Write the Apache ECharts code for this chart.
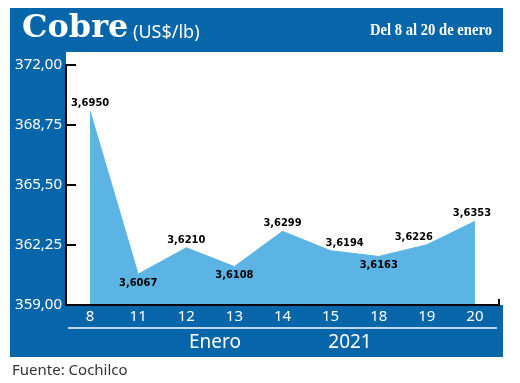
<!DOCTYPE html>
<html>
<head>
<meta charset="utf-8">
<script src="https://cdn.jsdelivr.net/npm/echarts@6/dist/echarts.min.js"></script>
<style>html,body{margin:0;padding:0;background:#fff;}#c{width:520px;height:383px;}</style>
</head>
<body>
<div id="c"></div>
<script>
// ---- data ----
var categories = ['8', '11', '12', '13', '14', '15', '18', '19', '20'];
var prices = [3.6950, 3.6067, 3.6210, 3.6108, 3.6299, 3.6194, 3.6163, 3.6226, 3.6353]; // US$/lb
var yTicks = [359.00, 362.25, 365.50, 368.75, 372.00];
var titleMain = 'Cobre';
var titleUnit = '(US$/lb)';
var titleRange = 'Del 8 al 20 de enero';
var monthLabel = 'Enero';
var yearLabel = '2021';
var sourceLabel = 'Fuente: Cochilco';

// ---- chart ----
var BLUE = '#0666a9';
var AREA = '#5bb4e4';
var labelPos = ['top', 'bottom', 'top', 'bottom', 'top', 'top', 'bottom', 'top', 'top'];
var labelOff = [[0, 0], [0, 0], [0, 0], [0, 0], [0, 0], [14, 0], [0, 0], [-13, 0], [-3, 0]];
var fmtY = function (v) { return v.toFixed(2).replace('.', ','); };
var fmtP = function (v) { return v.toFixed(4).replace('.', ','); };

var seriesData = prices.map(function (p, i) {
  return {
    value: Math.round(p * 10000) / 100,
    label: { show: true, position: labelPos[i], offset: labelOff[i], distance: labelPos[i] === 'top' ? 2 : 3 }
  };
});

var chart = echarts.init(document.getElementById('c'), null, { renderer: 'canvas' });
chart.setOption({
  backgroundColor: '#ffffff',
  animation: false,
  grid: { left: 66, right: 21, top: 65, bottom: 78, containLabel: false },
  graphic: [
    { type: 'rect', z: -10, silent: true, shape: { x: 10, y: 8, width: 493, height: 349 }, style: { fill: BLUE } },
    { type: 'rect', z: -9, silent: true, shape: { x: 66, y: 52, width: 437, height: 253 }, style: { fill: '#ffffff' } },
    { type: 'text', z: 10, x: 22, y: 45, style: { text: titleMain, fill: '#fff', font: 'bold 32px "DejaVu Serif", serif', verticalAlign: 'bottom' } },
    { type: 'text', z: 10, x: 133, y: 42, style: { text: titleUnit, fill: '#fff', font: '18px "Noto Sans", sans-serif', verticalAlign: 'bottom' } },
    { type: 'text', z: 10, x: 492, y: 39, scaleX: 0.86, originX: 0, originY: 0, style: { text: titleRange, fill: '#fff', font: 'bold 17px "Liberation Serif", serif', align: 'right', verticalAlign: 'bottom' } },
    { type: 'line', z: 10, silent: true, shape: { x1: 68, y1: 328, x2: 497, y2: 328 }, style: { stroke: '#fff', lineWidth: 1.5 } },
    { type: 'line', z: 10, silent: true, shape: { x1: 499, y1: 305, x2: 499, y2: 299 }, style: { stroke: '#000', lineWidth: 2 } },
    { type: 'text', z: 10, x: 215, y: 343, style: { text: monthLabel, fill: '#fff', font: '19px "Noto Sans", sans-serif', align: 'center', verticalAlign: 'middle' } },
    { type: 'text', z: 10, x: 350, y: 343, style: { text: yearLabel, fill: '#fff', font: '19px "Noto Sans", sans-serif', align: 'center', verticalAlign: 'middle' } },
    { type: 'text', z: 10, x: 12, y: 371, style: { text: sourceLabel, fill: '#333', font: '15px "Noto Sans", sans-serif', verticalAlign: 'middle' } }
  ],
  xAxis: {
    type: 'category',
    data: categories,
    boundaryGap: true,
    axisLine: { lineStyle: { color: '#000', width: 2 } },
    axisTick: { show: true, inside: true, length: 3, lineStyle: { color: '#000', width: 2 }, interval: function (i) { return i === 6; } },
    axisLabel: { color: '#fff', fontSize: 15, fontFamily: '"Noto Sans", sans-serif', margin: 4 },
    z: 5
  },
  yAxis: {
    type: 'value',
    min: yTicks[0],
    max: yTicks[yTicks.length - 1],
    axisLine: { show: true, lineStyle: { color: '#000', width: 2 } },
    axisTick: { show: true, inside: true, length: 10, lineStyle: { color: '#000', width: 2 }, customValues: yTicks },
    axisLabel: { color: '#fff', fontSize: 15, fontFamily: '"Noto Sans", sans-serif', margin: 4, formatter: fmtY, customValues: yTicks },
    splitLine: { show: false }
  },
  series: [{
    type: 'line',
    data: seriesData,
    symbol: 'circle',
    symbolSize: 1,
    showSymbol: true,
    lineStyle: { color: AREA, width: 1 },
    itemStyle: { color: 'rgba(0,0,0,0)', borderWidth: 0 },
    areaStyle: { color: AREA, opacity: 1 },
    label: {
      show: true,
      color: '#000',
      fontSize: 11,
      fontWeight: 'bold condensed',
      fontFamily: '"DejaVu Sans"',
      formatter: function (p) { return fmtP(prices[p.dataIndex]); }
    }
  }]
});
</script>
</body>
</html>
